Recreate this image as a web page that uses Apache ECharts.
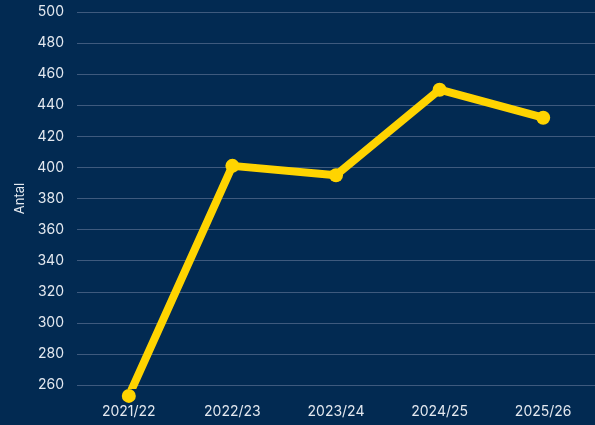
<!DOCTYPE html>
<html>
<head>
<meta charset="utf-8">
<script src="https://cdn.jsdelivr.net/npm/echarts@6/dist/echarts.min.js"></script>
<style>
  html, body { margin: 0; padding: 0; background: #022a52; }
  #chart { width: 595px; height: 425px; }
</style>
</head>
<body>
<div id="chart"></div>
<script>
// 学年
const seasons = ['2021/22', '2022/23', '2023/24', '2024/25', '2025/26']
// 数量
const antal = [253, 401, 395, 450, 432]

const textColor = '#e3e8ef'
const chart = echarts.init(document.getElementById('chart'))

const option = {
  backgroundColor: '#022a52',
  textStyle: { fontFamily: 'Inter' },
  grid: {
    left: 77,
    right: 0,
    top: 12,
    bottom: 40
  },
  xAxis: {
    type: 'category',
    data: seasons,
    boundaryGap: true,
    axisLine: { show: false },
    axisTick: { show: false },
    axisLabel: {
      color: textColor,
      fontSize: 14,
      margin: 20
    }
  },
  yAxis: {
    type: 'value',
    name: 'Antal',
    nameLocation: 'middle',
    nameGap: 50,
    nameTextStyle: { color: textColor, fontSize: 13 },
    min: 260,
    max: 500,
    interval: 20,
    axisLine: { show: false },
    axisTick: { show: false },
    axisLabel: {
      color: textColor,
      fontSize: 14,
      margin: 13
    },
    splitLine: {
      lineStyle: { color: '#3e5a7e', width: 1 }
    }
  },
  series: [{
    type: 'line',
    data: antal,
    clip: false,
    symbol: 'circle',
    symbolSize: 14,
    lineStyle: { color: '#ffd400', width: 8 },
    itemStyle: { color: '#ffd400' }
  }]
}

chart.setOption(option)
</script>
</body>
</html>
